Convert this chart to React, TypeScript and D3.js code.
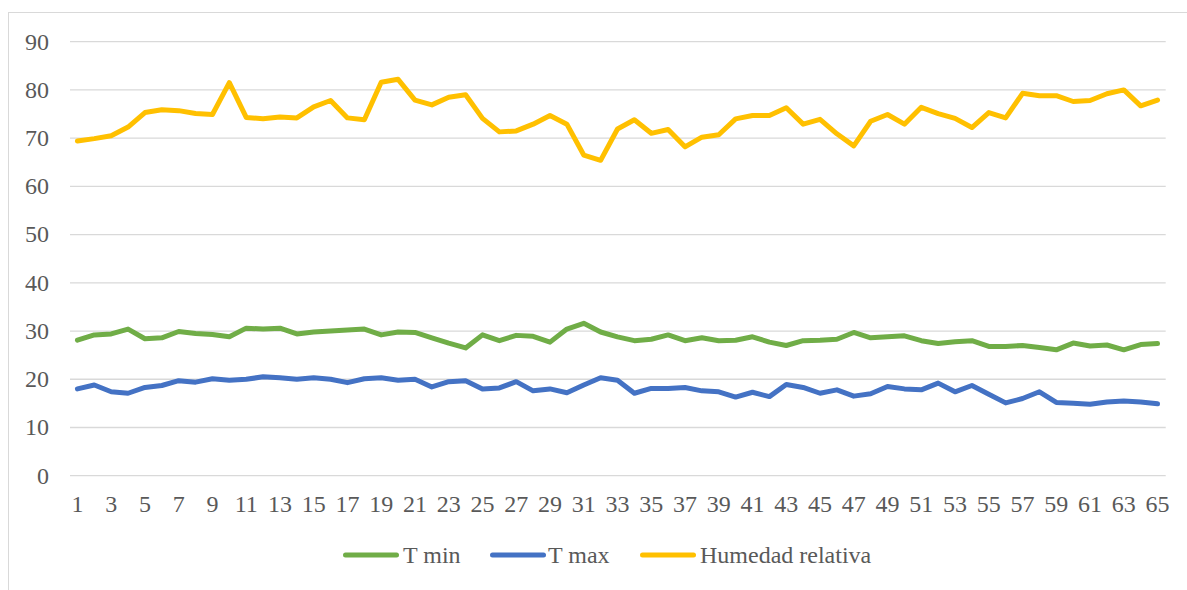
import React from "react";
import * as d3 from "d3";

const days: number[] = Array.from({ length: 65 }, (_, i) => i + 1);

const tMin: number[] = [
  28.1, 29.2, 29.4, 30.4, 28.4, 28.6, 29.9, 29.5, 29.3, 28.8,
  30.6, 30.4, 30.6, 29.4, 29.8, 30.0, 30.2, 30.4, 29.2, 29.8,
  29.7, 28.6, 27.5, 26.5, 29.2, 28.0, 29.1, 28.9, 27.7, 30.4,
  31.6, 29.8, 28.8, 28.0, 28.3, 29.2, 28.0, 28.6, 28.0, 28.1,
  28.8, 27.7, 27.0, 28.0, 28.1, 28.3, 29.7, 28.6, 28.8, 29.0,
  28.0, 27.4, 27.8, 28.0, 26.8, 26.8, 27.0, 26.6, 26.1, 27.5,
  26.9, 27.1, 26.1, 27.2, 27.4,
];

const tMax: number[] = [
  18.0, 18.8, 17.4, 17.1, 18.3, 18.7, 19.7, 19.4, 20.1, 19.8,
  20.0, 20.5, 20.3, 20.0, 20.3, 20.0, 19.3, 20.1, 20.3, 19.8,
  20.0, 18.4, 19.5, 19.7, 18.0, 18.2, 19.5, 17.6, 18.0, 17.2,
  18.8, 20.3, 19.8, 17.1, 18.1, 18.1, 18.3, 17.6, 17.4, 16.3,
  17.3, 16.4, 18.9, 18.3, 17.1, 17.8, 16.5, 17.0, 18.5, 18.0,
  17.8, 19.2, 17.4, 18.7, 16.9, 15.1, 16.0, 17.4, 15.2, 15.0,
  14.8, 15.3, 15.5, 15.3, 14.9,
];

const humedad: number[] = [
  69.4, 69.9, 70.5, 72.3, 75.3, 75.9, 75.7, 75.1, 74.9, 81.5,
  74.3, 74.0, 74.4, 74.2, 76.5, 77.8, 74.2, 73.8, 81.6, 82.2,
  77.9, 76.9, 78.5, 79.0, 74.1, 71.3, 71.5, 72.9, 74.7, 72.9,
  66.5, 65.4, 71.9, 73.8, 71.0, 71.8, 68.2, 70.2, 70.7, 74.0,
  74.7, 74.7, 76.3, 72.9, 73.9, 70.9, 68.4, 73.5, 74.9, 72.9,
  76.4, 75.1, 74.1, 72.2, 75.3, 74.2, 79.3, 78.8, 78.8, 77.6,
  77.8, 79.2, 80.0, 76.7, 77.9,
];

const yTicks: number[] = [0, 10, 20, 30, 40, 50, 60, 70, 80, 90];
const xTickLabels: number[] = days.filter((d) => d % 2 === 1);

const seriesNames: string[] = ["T min", "T max", "Humedad relativa"];
const seriesColors: string[] = ["#70AD47", "#4472C4", "#FFC000"];

const W = 1187;
const H = 590;
const FONT = '"Liberation Serif", "Times New Roman", serif';
const textStyle: React.CSSProperties = { fontFamily: FONT, fontSize: "24px" };

export default function App() {
  const x = d3.scalePoint<number>().domain(days).range([69, 1166]).padding(0.5);
  const y = d3.scaleLinear().domain([0, 90]).range([475.7, 41.7]);
  const gridX0 = 70;
  const gridX1 = 1165.7;

  const line = d3
    .line<number>()
    .x((_, i) => x(days[i]) as number)
    .y((v) => y(v));

  const series = [tMin, tMax, humedad];

  const legendItems = [
    { x0: 345.5, tx: 403 },
    { x0: 492.5, tx: 548 },
    { x0: 642.5, tx: 700 },
  ];

  return (
    <div style={{ position: "absolute", left: 0, top: 0, width: W, height: H, overflow: "hidden" }}>
      <svg width={W} height={H} style={{ display: "block", background: "#fff" }}>
        <rect x={8.5} y={12.5} width={1200} height={620} fill="#fff" stroke="#D9D9D9" strokeWidth={1} />
        {yTicks.map((t) => (
          <g key={"y" + t}>
            <line x1={gridX0} x2={gridX1} y1={y(t)} y2={y(t)} stroke="#D9D9D9" strokeWidth={1.3} />
            <text x={49} y={y(t) + 7.8} textAnchor="end" style={textStyle} fill="#595959">
              {t}
            </text>
          </g>
        ))}
        {xTickLabels.map((d) => (
          <text key={"x" + d} x={x(d) as number} y={512.3} textAnchor="middle" style={textStyle} fill="#595959">
            {d}
          </text>
        ))}
        {series.map((s, i) => (
          <path
            key={"s" + i}
            d={line(s) || ""}
            fill="none"
            stroke={seriesColors[i]}
            strokeWidth={5}
            strokeLinejoin="round"
            strokeLinecap="round"
          />
        ))}
        {seriesNames.map((name, i) => (
          <g key={"l" + i}>
            <line
              x1={legendItems[i].x0}
              x2={legendItems[i].x0 + 51}
              y1={555}
              y2={555}
              stroke={seriesColors[i]}
              strokeWidth={5}
              strokeLinecap="round"
            />
            <text x={legendItems[i].tx} y={563.3} style={textStyle} fill="#595959">
              {name}
            </text>
          </g>
        ))}
      </svg>
    </div>
  );
}
